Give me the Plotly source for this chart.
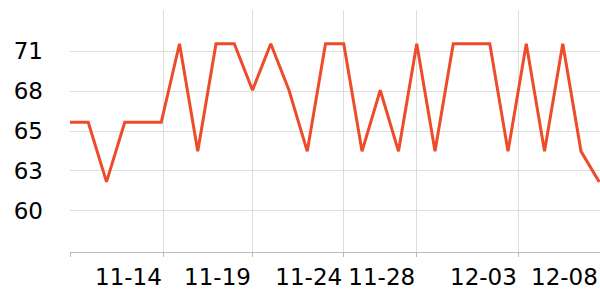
import plotly.graph_objects as go

# Data
dates = ["11-09", "11-10", "11-11", "11-12", "11-13", "11-14", "11-15", "11-16", "11-17", "11-18",
         "11-19", "11-20", "11-21", "11-22", "11-23", "11-24", "11-25", "11-26", "11-27", "11-28",
         "11-29", "11-30", "12-01", "12-02", "12-03", "12-04", "12-05", "12-06", "12-07", "12-08"]
values = [66.1, 66.1, 62.0, 66.1, 66.1, 66.1, 71.5, 64.1, 71.5, 71.5,
          68.3, 71.5, 68.3, 64.1, 71.5, 71.5, 64.1, 68.3, 64.1, 71.5,
          64.1, 71.5, 71.5, 71.5, 64.1, 71.5, 64.1, 71.5, 64.1, 62.0]
x_tick_pos = [0, 5.12, 10, 15, 19, 24.57]
x_tick_text = ["", "11-14", "11-19", "11-24", "11-28", "12-03"]
last_label = "12-08"
y_tick_vals = [60, 62.75, 65.5, 68.25, 71]
y_tick_text = ["60", "63", "65", "68", "71"]

idx = list(range(len(dates)))

fig = go.Figure()
fig.add_trace(go.Scatter(
    x=idx, y=values, mode="lines",
    line=dict(color="#ee4b2b", width=3),
    text=dates, hoverinfo="text+y",
))

font = dict(family="DejaVu Sans", size=23, color="#000000")

fig.update_layout(
    width=600, height=300,
    margin=dict(l=70, r=0, t=10, b=48),
    paper_bgcolor="white", plot_bgcolor="white",
    showlegend=False,
    font=font,
)
fig.update_xaxes(
    range=[0, 29.04],
    tickmode="array", tickvals=x_tick_pos, ticktext=x_tick_text,
    showgrid=True, gridcolor="#dddddd", gridwidth=1,
    showline=True, linecolor="#bbbbbb", linewidth=1,
    ticks="outside", ticklen=4, tickcolor="#bbbbbb",
    ticklabelshift=-35,
    tickfont=font, zeroline=False,
)
fig.update_yaxes(
    range=[57.18, 73.82],
    tickmode="array", tickvals=y_tick_vals, ticktext=y_tick_text,
    showgrid=True, gridcolor="#dddddd", gridwidth=1,
    showline=False, ticks="", ticklabelstandoff=26,
    tickfont=font, zeroline=False,
)
fig.add_annotation(
    text=last_label, xref="paper", yref="paper", x=1.0, y=0,
    xanchor="right", yanchor="top", yshift=-10, showarrow=False,
    font=font,
)

fig.write_html("out.html")
